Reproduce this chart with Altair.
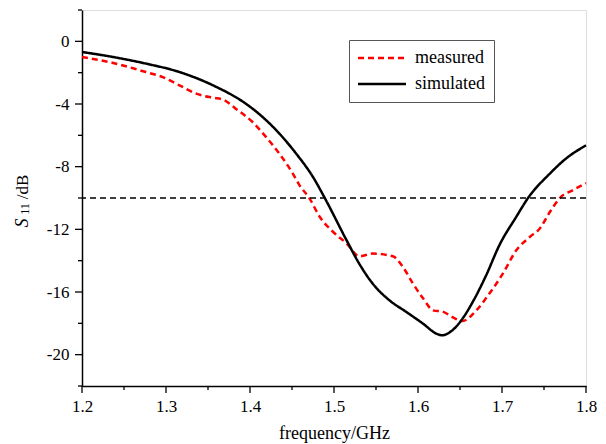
import altair as alt
import pandas as pd

# ---- data ----
sim_f = [1.200, 1.237, 1.276, 1.316, 1.356, 1.395, 1.415, 1.435, 1.455, 1.475,
         1.489, 1.515, 1.530, 1.546, 1.566, 1.586, 1.606, 1.622, 1.629, 1.641,
         1.653, 1.665, 1.681, 1.697, 1.717, 1.731, 1.757, 1.776, 1.800]
sim_v = [-0.68, -1.0, -1.42, -1.96, -2.81, -3.98, -4.83, -5.89, -7.17, -8.66,
         -10.0, -12.7, -14.19, -15.46, -16.53, -17.27, -18.02, -18.66, -18.76, -18.44,
         -17.7, -16.65, -14.95, -13.0, -11.2, -10.0, -8.44, -7.49, -6.64]

meas_f = [1.200, 1.237, 1.276, 1.296, 1.316, 1.336, 1.356, 1.368, 1.383, 1.403,
          1.419, 1.435, 1.451, 1.459, 1.471, 1.483, 1.499, 1.515, 1.530, 1.546,
          1.570, 1.582, 1.594, 1.606, 1.618, 1.630, 1.641, 1.653, 1.669, 1.685,
          1.701, 1.717, 1.733, 1.745, 1.757, 1.770, 1.784, 1.800]
meas_v = [-1.0, -1.38, -1.96, -2.28, -2.81, -3.34, -3.6, -3.72, -4.3, -5.15,
          -6.1, -7.17, -8.44, -9.19, -10.04, -11.2, -12.17, -12.9, -13.72, -13.55,
          -13.72, -14.4, -15.46, -16.4, -17.17, -17.27, -17.6, -17.85, -17.2, -16.1,
          -14.83, -13.34, -12.49, -11.95, -10.89, -9.94, -9.51, -9.05]

series_names = ["measured", "simulated"]
threshold = [-10]
x_major_ticks = [1.2, 1.3, 1.4, 1.5, 1.6, 1.7, 1.8]
x_minor_ticks = [1.25, 1.35, 1.45, 1.55, 1.65, 1.75]
y_major_ticks = [0, -4, -8, -12, -16, -20]
y_minor_ticks = [2, -2, -6, -10, -14, -18, -22]
ytitle_text = ["S", "11", "/dB"]

FONT = "Liberation Serif"

df = pd.concat([
    pd.DataFrame({"freq": meas_f, "s11": meas_v, "series": "measured", "order": range(len(meas_f))}),
    pd.DataFrame({"freq": sim_f, "s11": sim_v, "series": "simulated", "order": range(len(sim_f))}),
])

x_scale = alt.Scale(domain=[1.2, 1.8], nice=False, zero=False)
y_scale = alt.Scale(domain=[-22, 2], nice=False, zero=False)

x_axis = alt.Axis(
    values=x_major_ticks, format=".1f", ticks=False, tickSize=7,
    title="frequency/GHz", titleFont=FONT, titleFontSize=18, titleFontWeight="normal",
    titleColor="black", titlePadding=10,
    labelFont=FONT, labelFontSize=17, labelColor="black", labelPadding=12,
    labelFlush=False, labelOverlap=False,
    domainColor="black", domainWidth=1.5, grid=False,
)
y_axis = alt.Axis(
    values=y_major_ticks, labelExpr="'' + datum.value", ticks=False, tickSize=7,
    title=None,
    labelFont=FONT, labelFontSize=17, labelColor="black", labelPadding=13,
    labelFlush=False, labelOverlap=False,
    domainColor="black", domainWidth=1.5, grid=False,
)

legend = alt.Legend(
    title=None, orient="none", legendX=267, legendY=30,
    symbolType="M -4 0 L 4 0", symbolSize=144, symbolStrokeWidth=2.5, symbolOffset=15,
    labelFont=FONT, labelFontSize=18, labelColor="black", labelOffset=24,
    labelExpr="datum.label + '\u00a0\u00a0\u00a0\u00a0\u00a0\u00a0\u00a0\u00a0'",
    strokeColor="#555555", fillColor="white", padding=9,
    rowPadding=8, cornerRadius=0,
)

lines = alt.Chart(df).mark_line(strokeWidth=2.5, interpolate="monotone").encode(
    x=alt.X("freq:Q", scale=x_scale, axis=x_axis),
    y=alt.Y("s11:Q", scale=y_scale, axis=y_axis),
    order="order:Q",
    color=alt.Color("series:N",
                    scale=alt.Scale(domain=series_names, range=["#ff0000", "#000000"]),
                    legend=legend),
    strokeDash=alt.StrokeDash("series:N",
                              scale=alt.Scale(domain=series_names, range=[[6, 4], [1, 0]]),
                              legend=legend),
)

rule = alt.Chart(pd.DataFrame({"s11": threshold})).mark_rule(
    color="black", strokeWidth=1.3, strokeDash=[6, 4]
).encode(y=alt.Y("s11:Q", scale=y_scale, axis=y_axis))

# tick marks, placed through the scales
def x_tick_layer(vals, length):
    return alt.Chart(pd.DataFrame({"freq": vals})).mark_rule(color="black", strokeWidth=1.3).encode(
        x=alt.X("freq:Q", scale=x_scale, axis=x_axis), y=alt.value(376), y2=alt.value(376 + length))

def y_tick_layer(vals, length):
    return alt.Chart(pd.DataFrame({"s11": vals})).mark_rule(color="black", strokeWidth=1.3).encode(
        y=alt.Y("s11:Q", scale=y_scale, axis=y_axis), x=alt.value(-length), x2=alt.value(0))

ticks = [x_tick_layer(x_major_ticks, 7), x_tick_layer(x_minor_ticks, 4),
         y_tick_layer(y_major_ticks, 7), y_tick_layer(y_minor_ticks, 4)]

ytitle_style = [("italic", 18, -59.5, 213), ("normal", 12, -57, 199), ("normal", 17, -59.5, 177)]
ytitle_layers = []
for t, (sty, size, px, py) in zip(ytitle_text, ytitle_style):
    ytitle_layers.append(
        alt.Chart(pd.DataFrame({"t": [t]})).mark_text(
            font=FONT, fontSize=size, fontStyle=sty, angle=270,
            align="center", baseline="middle", color="black"
        ).encode(text="t:N", x=alt.value(px), y=alt.value(py))
    )

chart = alt.layer(lines, rule, *ticks, *ytitle_layers).properties(
    width=504, height=376,
    autosize=alt.AutoSizeParams(type="none"),
    padding={"left": 82, "top": 10, "right": 20, "bottom": 58},
).configure_view(stroke="black", strokeWidth=1.5).configure(background="white")

chart.save("out.html", embed_options={"renderer": "svg", "actions": False})
